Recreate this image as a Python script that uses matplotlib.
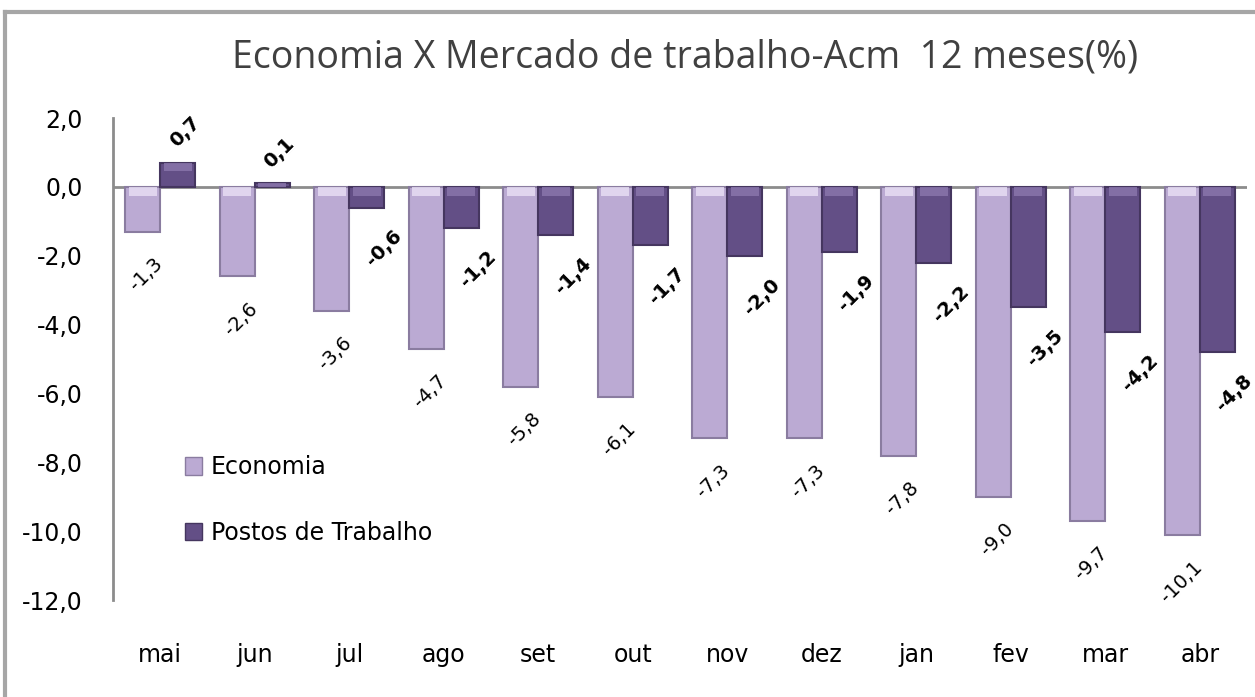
import matplotlib.pyplot as plt
from matplotlib.patches import Patch
from matplotlib.lines import Line2D
import numpy as np

# dados
meses = ['mai', 'jun', 'jul', 'ago', 'set', 'out', 'nov', 'dez', 'jan', 'fev', 'mar', 'abr']
economia = [-1.3, -2.6, -3.6, -4.7, -5.8, -6.1, -7.3, -7.3, -7.8, -9.0, -9.7, -10.1]
postos = [0.7, 0.1, -0.6, -1.2, -1.4, -1.7, -2.0, -1.9, -2.2, -3.5, -4.2, -4.8]
yticks = [2, 0, -2, -4, -6, -8, -10, -12]

cor_eco = '#BBAAD3'
cor_eco_borda = '#8A7CA0'
cor_eco_luz = '#EAE1F6'
cor_pos = '#634F86'
cor_pos_borda = '#45365F'
cor_pos_luz = '#8C78AE'

plt.rcParams['font.family'] = ['DejaVu Sans']

fig = plt.figure(figsize=(12.55, 6.97), dpi=100)
ax = fig.add_axes([0.090, 0.139, 0.9036, 0.6916])

x = np.arange(len(meses))
w = 0.37

ax.bar(x - w / 2, economia, w, color=cor_eco, edgecolor=cor_eco_borda, linewidth=1.5, zorder=2)
ax.bar(x + w / 2, postos, w, color=cor_pos, edgecolor=cor_pos_borda, linewidth=1.5, zorder=2)

# brilho no topo das barras (efeito bisel)
def brilho(vals):
    alt = [min(abs(v), 0.25) for v in vals]
    base = [v - a if v > 0 else 0 for v, a in zip(vals, alt)]
    alt = [a if v > 0 else -a for v, a in zip(vals, alt)]
    return alt, base

alt_eco, base_eco = brilho(economia)
alt_pos, base_pos = brilho(postos)
ax.bar(x - w / 2, alt_eco, w * 0.8, bottom=base_eco, color=cor_eco_luz, alpha=0.8, linewidth=0, zorder=3)
ax.bar(x + w / 2, alt_pos, w * 0.8, bottom=base_pos, color=cor_pos_luz, alpha=0.8, linewidth=0, zorder=3)

# rótulos de dados
for i, v in enumerate(economia):
    ax.text(x[i] - w / 2 + 0.18, v - 0.85, f'{v:.1f}'.replace('.', ','),
            rotation=45, rotation_mode='anchor', ha='right', va='center',
            fontsize=14, color='black', zorder=4)
for i, v in enumerate(postos):
    txt = f'{v:.1f}'.replace('.', ',')
    if v >= 0:
        ax.text(x[i] + w / 2 - 0.05, v + 0.55, txt, rotation=45, rotation_mode='anchor',
                ha='left', va='center', fontsize=14, fontweight='bold', zorder=4)
    else:
        ax.text(x[i] + w / 2 + 0.34, v - 0.75, txt, rotation=45, rotation_mode='anchor',
                ha='right', va='center', fontsize=14, fontweight='bold', zorder=4)

ax.axhline(0, color='#8C8C8C', linewidth=2, zorder=1)

ax.set_xlim(-0.5, len(meses) - 0.5)
ax.set_ylim(-12, 2)
ax.set_yticks(yticks)
ax.set_yticklabels([f'{t:.1f}'.replace('.', ',') for t in yticks], fontsize=17)
ax.set_xticks(x)
ax.set_xticklabels(meses, fontsize=17)
ax.tick_params(axis='y', length=0, pad=22)
ax.tick_params(axis='x', length=0, pad=31)

for s in ['top', 'right', 'bottom']:
    ax.spines[s].set_visible(False)
ax.spines['left'].set_color('#8C8C8C')
ax.spines['left'].set_linewidth(2)

# legenda
handles = [Patch(facecolor=cor_eco, edgecolor=cor_eco_borda, label='Economia'),
           Patch(facecolor=cor_pos, edgecolor=cor_pos_borda, label='Postos de Trabalho')]
ax.legend(handles=handles, loc='upper left', bbox_to_anchor=(0.055, 0.32), frameon=False,
          fontsize=17, handlelength=0.75, handleheight=0.75, handletextpad=0.35,
          labelspacing=1.75, borderaxespad=0)

fig.text(0.546, 0.918, 'Economia X Mercado de trabalho-Acm  12 meses(%)', ha='center', va='center',
         fontsize=27, color='#404040', family='Open Sans')

# moldura do gráfico
fig.add_artist(Line2D([5 / 1255, 5 / 1255], [0, 1 - 12 / 697], color='#A6A6A6', linewidth=3))
fig.add_artist(Line2D([5 / 1255, 1], [1 - 12 / 697, 1 - 12 / 697], color='#A6A6A6', linewidth=3))

fig.savefig('out.png', dpi=100)
